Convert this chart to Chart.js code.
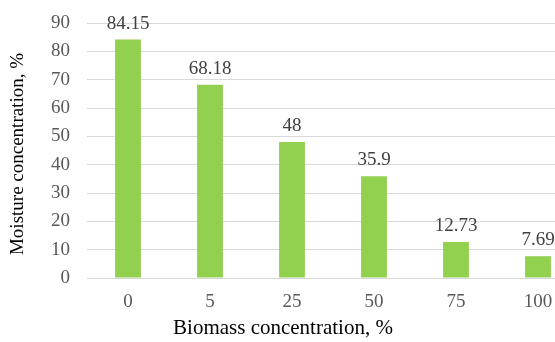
<!DOCTYPE html>
<html>
<head>
<meta charset="utf-8">
<script src="https://cdn.jsdelivr.net/npm/chart.js@4/dist/chart.umd.min.js"></script>
<style>
  html, body { margin: 0; padding: 0; background: #fff; overflow: hidden; }
  #wrap { width: 555px; height: 342px; overflow: hidden; }
  canvas { display: block; }
</style>
</head>
<body>
<div id="wrap"><canvas id="c" width="579" height="342"></canvas></div>
<script>
// Moisture concentration by biomass concentration
const categories = ['0', '5', '25', '50', '75', '100'];
const moisture = [84.15, 68.18, 48, 35.9, 12.73, 7.69];
const yTicks = [0, 10, 20, 30, 40, 50, 60, 70, 80, 90];

const FONT = "'Liberation Serif', 'Times New Roman', serif";
const xTitle = 'Biomass concentration, %';
const yTitle = 'Moisture concentration, %';

// Value labels above each bar
const valueLabels = {
  id: 'valueLabels',
  afterDatasetsDraw(chart) {
    const ctx = chart.ctx;
    const meta = chart.getDatasetMeta(0);
    ctx.save();
    ctx.font = '19px ' + FONT;
    ctx.fillStyle = '#404040';
    ctx.textAlign = 'center';
    ctx.textBaseline = 'alphabetic';
    meta.data.forEach((bar, i) => {
      ctx.fillText(String(moisture[i]), bar.x, bar.y - 11);
    });
    ctx.restore();
  }
};

// Axis titles
const axisTitles = {
  id: 'axisTitles',
  afterDraw(chart) {
    const ctx = chart.ctx;
    ctx.save();
    ctx.fillStyle = '#000';
    ctx.textAlign = 'center';
    ctx.textBaseline = 'middle';
    ctx.font = '21px ' + FONT;
    ctx.fillText(xTitle, 283, 328);
    ctx.translate(18, 154);
    ctx.rotate(-Math.PI / 2);
    ctx.font = '19px ' + FONT;
    ctx.fillText(yTitle, 0, 0);
    ctx.restore();
  }
};

new Chart(document.getElementById('c'), {
  type: 'bar',
  data: {
    labels: categories,
    datasets: [{
      data: moisture,
      backgroundColor: '#92D050',
      borderWidth: 0,
      categoryPercentage: 0.5,
      barPercentage: 0.63
    }]
  },
  options: {
    responsive: false,
    animation: false,
    events: [],
    layout: { padding: { top: 23, left: 0, right: 0, bottom: 0 } },
    plugins: { legend: { display: false }, tooltip: { enabled: false } },
    scales: {
      x: {
        grid: { display: false },
        border: { display: false },
        ticks: {
          color: '#595959',
          font: { family: FONT, size: 19 },
          padding: 5
        },
        afterFit(scale) {
          scale.height = 64;
          scale.paddingLeft = 0;
          scale.paddingRight = 0;
        }
      },
      y: {
        min: 0,
        max: 90,
        afterBuildTicks(scale) { scale.ticks = yTicks.map(v => ({ value: v })); },
        grid: { color: '#D9D9D9', lineWidth: 1, drawTicks: false },
        border: { display: false },
        ticks: {
          color: '#595959',
          font: { family: FONT, size: 19 },
          padding: 17
        },
        afterFit(scale) {
          scale.width = 87;
          scale.paddingTop = 0;
          scale.paddingBottom = 0;
        }
      }
    }
  },
  plugins: [valueLabels, axisTitles]
});
</script>
</body>
</html>
